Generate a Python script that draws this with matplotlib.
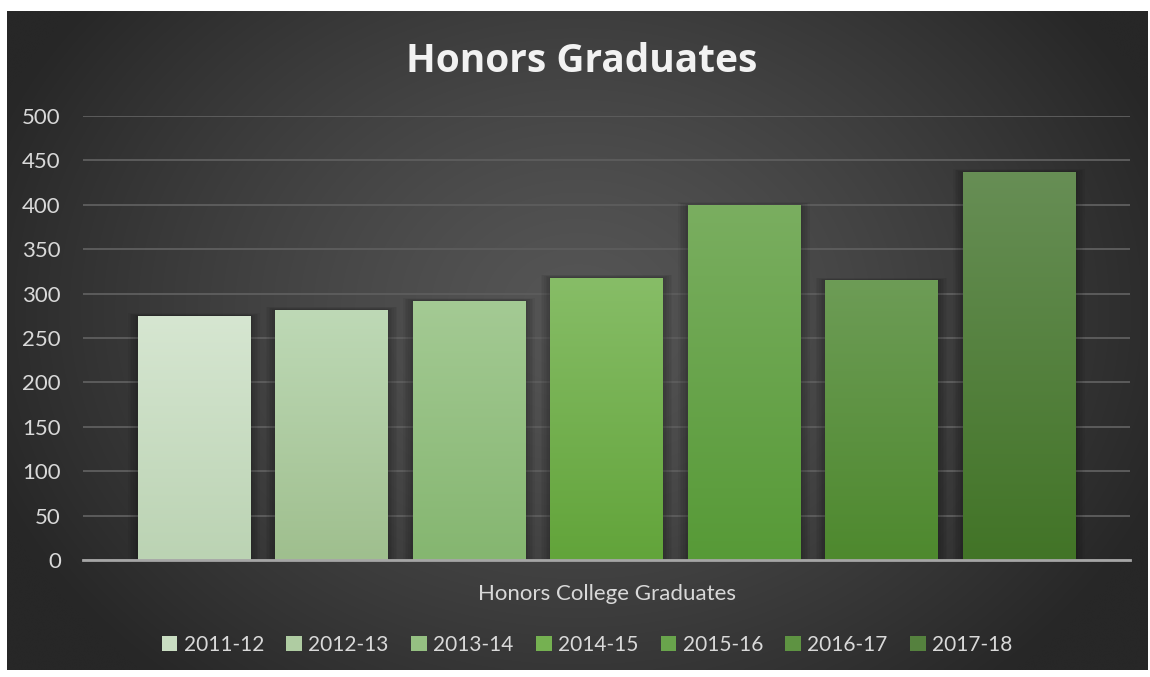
import numpy as np
import matplotlib
matplotlib.use("Agg")
import matplotlib.pyplot as plt
from matplotlib.patches import Rectangle, Patch
from matplotlib.colors import to_rgb

## Data
seasons = ["2011-12", "2012-13", "2013-14", "2014-15", "2015-16", "2016-17", "2017-18"]
graduates = [275, 282, 292, 318, 400, 315, 437]
top_colors = ["#d6e6d1", "#bed9b6", "#a4ca94", "#87bd67", "#7aae60", "#6d9c56", "#678e55"]
bottom_colors = ["#bbd3b3", "#9fbf8e", "#85b670", "#62a43a", "#579a37", "#4e892e", "#427427"]
category = "Honors College Graduates"
y_ticks = list(range(0, 501, 50))

plt.rcParams["font.family"] = ["Lato", "DejaVu Sans"]

fig = plt.figure(figsize=(11.5, 6.77), dpi=100)
fig.patch.set_facecolor("white")

## background panel with radial gradient
bg = fig.add_axes([7 / 1150, 1 - 670 / 677, 1140 / 1150, 659 / 677])
bg.set_axis_off()
ny, nx = 300, 520
yy, xx = np.mgrid[0:ny, 0:nx]
cx, cy = nx * 0.5, ny * 0.45
r = np.sqrt(((xx - cx) / (nx * 0.55)) ** 2 + ((yy - cy) / (ny * 0.75)) ** 2)
r = np.clip(r, 0, 1)
inner, outer = 0x55 / 255, 0x27 / 255
g = inner + (outer - inner) * r ** 1.3
bg.imshow(np.dstack([g, g, g]), aspect="auto", extent=[0, 1, 0, 1], interpolation="bicubic")
bg.set_xlim(0, 1)
bg.set_ylim(0, 1)

## main plot
ax = fig.add_axes([83 / 1150, 1 - 560 / 677, 1047 / 1150, 444 / 677])
ax.patch.set_alpha(0)
x = np.arange(len(seasons))
width = 0.815
bars = ax.bar(x, graduates, width=width, color="none", zorder=3)

# soft shadows and gradient fills
for i, b in enumerate(bars):
    bx, by = b.get_x(), b.get_y()
    bw, bh = b.get_width(), b.get_height()
    for k in range(1, 7):
        dx = 0.012 * k
        ax.add_patch(Rectangle((bx - dx, by), bw + 2 * dx, bh + dx * 40,
                               facecolor="black", edgecolor="none", alpha=0.045, zorder=2))
    c1 = np.array(to_rgb(top_colors[i]))
    c2 = np.array(to_rgb(bottom_colors[i]))
    t = np.linspace(0, 1, 100)[:, None]
    grad = (c1[None, :] * (1 - t) + c2[None, :] * t)[:, None, :]
    im = ax.imshow(grad, aspect="auto", extent=[bx, bx + bw, by, by + bh],
                   zorder=3, interpolation="bilinear")
    im.set_clip_path(b)

ax.set_xlim(-0.807, 6.807)
ax.set_ylim(0, 500)
ax.set_yticks(y_ticks)
ax.set_yticklabels([str(v) for v in y_ticks])
ax.set_xticks([])
ax.grid(axis="y", color="#5c5c5c", linewidth=1.4, zorder=1)
ax.set_axisbelow(True)
for s in ["top", "right", "left"]:
    ax.spines[s].set_visible(False)
ax.spines["bottom"].set_color("#a6a6a6")
ax.spines["bottom"].set_linewidth(2)
ax.spines["bottom"].set_zorder(4)
ax.tick_params(axis="y", length=0, pad=16, labelsize=16, labelcolor="#d9d9d9")

ax.set_xlabel(category, fontsize=16, color="#d9d9d9", labelpad=17)

fig.text(0.506, 1 - 61 / 677, "Honors Graduates", ha="center", va="center",
         fontsize=28, fontweight="bold", color="#f2f2f2", family=["Open Sans", "DejaVu Sans"])

# legend swatches use the middle of each bar gradient
mid_colors = [tuple((np.array(to_rgb(a)) + np.array(to_rgb(b))) / 2)
              for a, b in zip(top_colors, bottom_colors)]
handles = [Patch(facecolor=c, edgecolor="none") for c in mid_colors]
leg = fig.legend(handles, seasons, loc="center", bbox_to_anchor=(0.5104, 1 - 645 / 677),
                 ncol=7, frameon=False, fontsize=15, handlelength=0.75, handleheight=0.75,
                 handletextpad=0.3, columnspacing=1.08, labelcolor="#d9d9d9")

fig.savefig("out.png", dpi=100, facecolor=fig.get_facecolor())
